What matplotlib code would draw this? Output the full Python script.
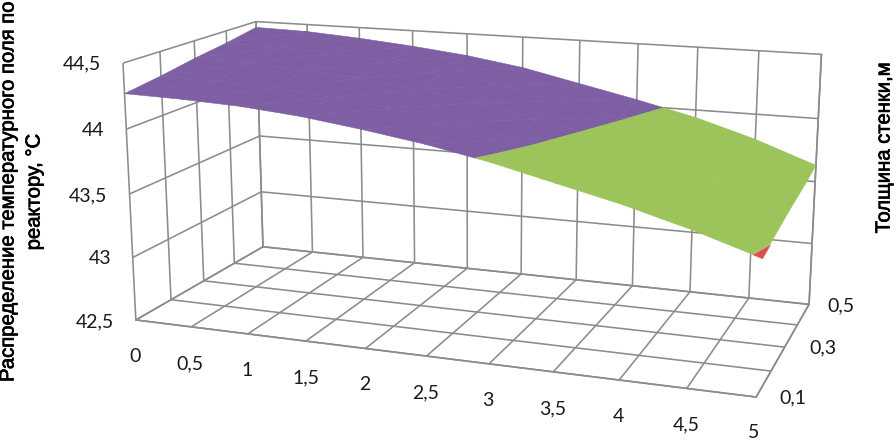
import numpy as np
import matplotlib
matplotlib.use('Agg')
import matplotlib.pyplot as plt
import matplotlib.patheffects as pe
from mpl_toolkits.mplot3d.art3d import Poly3DCollection

# lengths along the reactor, wall thickness, temperature
x_vals = [0, 0.5, 1, 1.5, 2, 2.5, 3, 3.5, 4, 4.5, 5]
y_vals = [0.1, 0.2, 0.3, 0.4, 0.5]
temp_01 = [44.27, 44.26, 44.24, 44.20, 44.14, 44.07, 43.98, 43.87, 43.76, 43.63, 43.48]
temp_02 = [44.31, 44.30, 44.28, 44.24, 44.19, 44.12, 44.03, 43.93, 43.81, 43.67, 43.52]
temp_03 = [44.36, 44.35, 44.32, 44.29, 44.23, 44.16, 44.07, 43.97, 43.85, 43.71, 43.56]
temp_04 = [44.40, 44.39, 44.37, 44.33, 44.28, 44.20, 44.11, 44.01, 43.90, 43.75, 43.59]
temp_05 = [44.45, 44.44, 44.41, 44.37, 44.32, 44.25, 44.15, 44.05, 43.94, 43.80, 43.63]
z_ticks = [42.5, 43, 43.5, 44, 44.5]
bands = [(43, 43.5), (43.5, 44), (44, 44.5)]
band_colors = ['#D8504D', '#9DC35B', '#7F5FA3']

x_labels = ['0', '0,5', '1', '1,5', '2', '2,5', '3', '3,5', '4', '4,5', '5']
y_labels = ['0,1', '0,3', '0,5']
z_labels = ['42,5', '43', '43,5', '44', '44,5']

W, H = 896, 442
GRID = '#8C8C8C'
Z = np.array([temp_01, temp_02, temp_03, temp_04, temp_05])


def clip_band(poly, lo, hi):
    # cut a polygon to the part between two heights
    for level, sign in ((lo, 1), (hi, -1)):
        out = []
        for i in range(len(poly)):
            a, b = poly[i], poly[(i + 1) % len(poly)]
            da, db = sign * (a[2] - level), sign * (b[2] - level)
            if da >= 0:
                out.append(a)
            if da * db < 0:
                out.append(a + (b - a) * da / (da - db))
        poly = out
        if not poly:
            break
    return poly


def ptext(px, py, s, **kw):
    return fig.text(px / W, 1 - py / H, s, ha='center', va='center', **kw)


fig = plt.figure(figsize=(W / 100, H / 100), dpi=100)
ax = fig.add_axes([0.12355, -0.2540, 0.79676, 1.6151], projection='3d')
ax.patch.set_alpha(0)
ax.set_xlim(0, 5)
ax.set_ylim(0.1, 0.5)
ax.set_zlim(42.5, 44.5)
ax.view_init(14.150, -70.117, -0.031)
ax.set_box_aspect((2.4002, 1.0791, 1))
ax.set_proj_type('persp', focal_length=0.4498)

ax.set_xticks(x_vals)
ax.set_yticks(y_vals)
ax.set_zticks(z_ticks)
ax.set_xticklabels([])
ax.set_yticklabels([])
ax.set_zticklabels([])
ax.tick_params(length=0)
for axis in (ax.xaxis, ax.yaxis, ax.zaxis):
    axis.set_pane_color((1, 1, 1, 0))
    axis.pane.set_edgecolor((1, 1, 1, 0))
    axis.line.set_color(GRID)
    axis.line.set_linewidth(1.15)
    axis._axinfo['grid'].update(color=GRID, linewidth=1.15, linestyle='-')
    axis._axinfo['tick'].update(inward_factor=0, outward_factor=0)

for k, (lo, hi) in enumerate(bands):
    polys = []
    for j in range(len(y_vals) - 1):
        for i in range(len(x_vals) - 1):
            p = [np.array([x_vals[i + a], y_vals[j + b], Z[j + b, i + a]]) for a, b in ((0, 0), (1, 0), (1, 1), (0, 1))]
            for tri in ([p[0], p[1], p[2]], [p[0], p[2], p[3]]):
                c = clip_band(tri, lo, hi)
                if len(c) >= 3:
                    polys.append(np.array(c))
    ax.add_collection3d(Poly3DCollection(polys, facecolor=band_colors[k], edgecolor=band_colors[k], linewidth=0.4))

# tick labels sit where the reference has them
tick_font = dict(family='Lato', fontsize=14, color='#1A1A1A')
for s, (px, py) in zip(x_labels, [(135, 356), (190, 364), (247, 370), (306, 378), (365, 385), (426, 393), (488, 400), (553, 409), (618, 416), (686, 425), (754, 433)]):
    ptext(px, py, s, **tick_font)
for s, (px, py) in zip(y_labels, [(793, 398), (823, 348), (841, 306)]):
    ptext(px, py, s, **tick_font)
for s, (px, py) in zip(z_labels, [(95, 322), (100, 259), (88, 196), (93, 130), (82, 64)]):
    ptext(px, py, s, **tick_font)

title_font = dict(family='Liberation Sans', fontsize=14.6, color='black', rotation=90)
for px, py, s in [(8, 192, 'Распределение температурного поля по'), (34, 192, 'реактору, °С'), (884, 148, 'Толщина стенки,м')]:
    t = ptext(px, py, s, **title_font)
    t.set_path_effects([pe.withStroke(linewidth=0.5, foreground='black')])

fig.savefig('out.png', dpi=100)
